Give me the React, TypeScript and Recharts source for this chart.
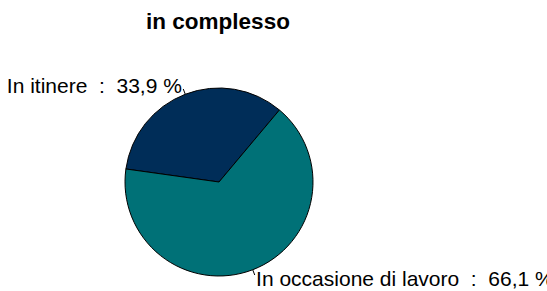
import { PieChart, Pie, Cell } from 'recharts';

const categories = ['In itinere', 'In occasione di lavoro'];
const values = [33.9, 66.1];
const colors = ['#002d58', '#007177'];
const title = 'in complesso';

const data = categories.map((name, i) => ({ name, value: values[i] }));

const RAD = Math.PI / 180;

function renderLabel(props: any) {
  const { cx, cy, midAngle, outerRadius, name, value, index } = props;
  const cos = Math.cos(-midAngle * RAD);
  const sin = Math.sin(-midAngle * RAD);
  const x1 = cx + outerRadius * cos;
  const y1 = cy + outerRadius * sin;
  const x2 = cx + outerRadius * 1.06 * cos;
  const y2 = cy + outerRadius * 1.06 * sin;
  const tx = cx + outerRadius * 1.1 * cos;
  const ty = cy + outerRadius * 1.1 * sin;
  const text = `${name}  :  ${value.toFixed(1).replace('.', ',')} %`;
  return (
    <g key={`lbl-${index}`}>
      <line x1={x1} y1={y1} x2={x2} y2={y2} stroke="#000" strokeWidth={1} />
      <text
        x={tx}
        y={ty}
        dy="0.35em"
        textAnchor={cos >= 0 ? 'start' : 'end'}
        fill="#000"
        fontSize={21}
        fontFamily="'Liberation Sans', Arial, sans-serif"
        style={{ whiteSpace: 'pre' }}
      >
        {text}
      </text>
    </g>
  );
}

export default function App() {
  return (
    <div style={{ position: 'fixed', left: 0, top: 0, width: 547, height: 291, background: '#fff', overflow: 'hidden' }}>
      <PieChart width={547} height={291} margin={{ top: 0, right: 0, bottom: 0, left: 0 }}>
        <text
          x={218}
          y={29}
          textAnchor="middle"
          fontSize={22.5}
          fontWeight="bold"
          fontFamily="'Liberation Sans', Arial, sans-serif"
          fill="#000"
        >
          {title}
        </text>
        <Pie
          data={data}
          dataKey="value"
          nameKey="name"
          cx={219}
          cy={182}
          outerRadius={94}
          startAngle={50}
          endAngle={410}
          stroke="#000"
          strokeWidth={1}
          label={renderLabel}
          labelLine={false}
          isAnimationActive={false}
        >
          {data.map((d, i) => (
            <Cell key={d.name} fill={colors[i]} />
          ))}
        </Pie>
      </PieChart>
    </div>
  );
}
